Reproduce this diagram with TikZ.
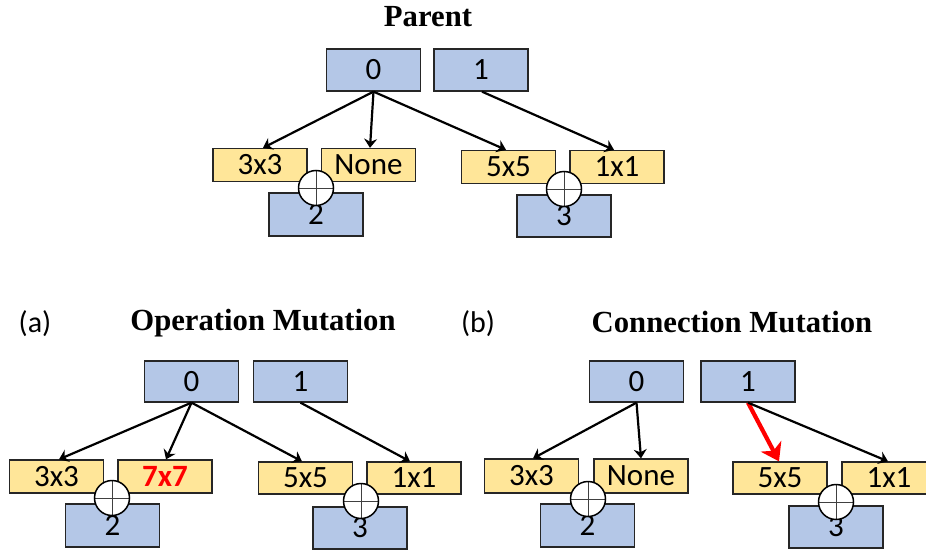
\documentclass[tikz,border=0pt]{standalone}
\usepackage{fontspec}
\setmainfont{Carlito}
\newfontfamily\titlefont{Liberation Serif}
\usetikzlibrary{arrows.meta}
\definecolor{nodeblue}{HTML}{B4C7E7}
\definecolor{opyellow}{HTML}{FFE699}
\definecolor{edgegray}{HTML}{262626}
\definecolor{mutred}{HTML}{FF0000}
\tikzset{
  every node/.style={font=\fontsize{31}{32}\selectfont, inner sep=0pt},
  statebox/.style={draw=edgegray, line width=1.3pt, fill=nodeblue, minimum width=94pt, minimum height=42pt},
  opbox/.style={draw=edgegray, line width=1.3pt, fill=opyellow, minimum width=94pt, minimum height=33pt},
  sumop/.style={circle, draw=black, line width=1.5pt, fill=white, minimum size=35pt,
    path picture={
      \draw[line width=0.9pt, black!75]
        (path picture bounding box.north) -- (path picture bounding box.south)
        (path picture bounding box.west) -- (path picture bounding box.east);}},
  link/.style={line width=2.2pt, -{Stealth[length=9pt,width=13pt,inset=3pt]}},
  newlink/.style={line width=4.2pt, draw=mutred, -{Stealth[length=17pt,width=23pt,inset=5pt]}},
  heading/.style={font=\titlefont\fontsize{30.7}{32}\selectfont\bfseries},
  tag/.style={font=\fontsize{30}{32}\selectfont}
}
\begin{document}
\begin{tikzpicture}[x=1pt,y=-1pt]
\useasboundingbox (0,0) rectangle (926,551);
\clip (0,0) rectangle (926,551);

% ---------- parent cell ----------
\node[heading] (ptitle) at (428,17) {Parent};
\node[statebox] (p0) at (373.5,70) {0};
\node[statebox] (p1) at (481,70) {1};
\node[opbox] (pa) at (260,165) {3x3};
\node[opbox] (pb) at (368.5,165) {None};
\node[opbox] (pc) at (508.5,167) {5x5};
\node[opbox] (pd) at (617,167) {1x1};
\node[statebox, minimum height=43pt] (p2) at (316,214.5) {\raisebox{-3pt}{2}};
\node[statebox] (p3) at (564,216) {\raisebox{-3pt}{3}};
\node[sumop] (ps2) at (316,188) {};
\node[sumop] (ps3) at (564,189) {};
\draw[link] (p0.south) -- ([xshift=3pt]pa.north);
\draw[link] (p0.south) -- ([xshift=1.5pt]pb.north);
\draw[link] (p0.south) -- ([xshift=-2.5pt]pc.north);
\draw[link] ([xshift=1pt]p1.south) -- ([xshift=-3pt]pd.north);

% ---------- (a) operation mutation ----------
\node[tag] (atag) at (35,324) {(a)};
\node[heading] (atitle) at (263,323) {Operation Mutation};
\node[statebox, minimum height=41pt] (a0) at (191.5,381.5) {0};
\node[statebox, minimum height=41pt] (a1) at (300.5,381.5) {1};
\node[opbox] (aa) at (56.5,476.5) {3x3};
\node[opbox] (ab) at (165,476.5) {\textcolor{mutred}{\bfseries 7x7}};
\node[opbox, minimum height=32pt] (ac) at (305.5,478) {5x5};
\node[opbox, minimum height=32pt] (ad) at (414,478) {1x1};
\node[statebox, minimum height=43pt] (a2) at (112.5,525.5) {\raisebox{-3pt}{2}};
\node[statebox] (a3) at (360,528) {\raisebox{-3pt}{3}};
\node[sumop] (as2) at (112,498) {};
\node[sumop] (as3) at (361,501) {};
\draw[link] (a0.south) -- ([xshift=2.5pt]aa.north);
\draw[link] (a0.south) -- ([xshift=1pt]ab.north);
\draw[link] (a0.south) -- ([xshift=-3.5pt]ac.north);
\draw[link] (a1.south) -- ([xshift=-4pt]ad.north);

% ---------- (b) connection mutation ----------
\node[tag] (btag) at (478,324) {(b)};
\node[heading] (btitle) at (732,322) {Connection Mutation};
\node[statebox, minimum height=41pt] (b0) at (636.5,381.5) {0};
\node[statebox, minimum height=41pt] (b1) at (748,381.5) {1};
\node[opbox, minimum height=34pt] (ba) at (531.5,476) {3x3};
\node[opbox, minimum height=34pt] (bb) at (641,476) {None};
\node[opbox, minimum height=32pt] (bc) at (780,478) {5x5};
\node[opbox, minimum height=32pt] (bd) at (889,478) {1x1};
\node[statebox, minimum height=43pt] (b2) at (587.5,525.5) {\raisebox{-3pt}{2}};
\node[statebox] (b3) at (836,527) {\raisebox{-3pt}{3}};
\node[sumop] (bs2) at (588,499) {};
\node[sumop] (bs3) at (836,502) {};
\draw[link] (b0.south) -- ([xshift=1.5pt]ba.north);
\draw[link] (b0.south) -- ([xshift=0pt]bb.north);
\draw[newlink] (b1.south) -- ([xshift=-1pt]bc.north);
\draw[link] (b1.south) -- ([xshift=-1pt]bd.north);
\end{tikzpicture}
\end{document}
